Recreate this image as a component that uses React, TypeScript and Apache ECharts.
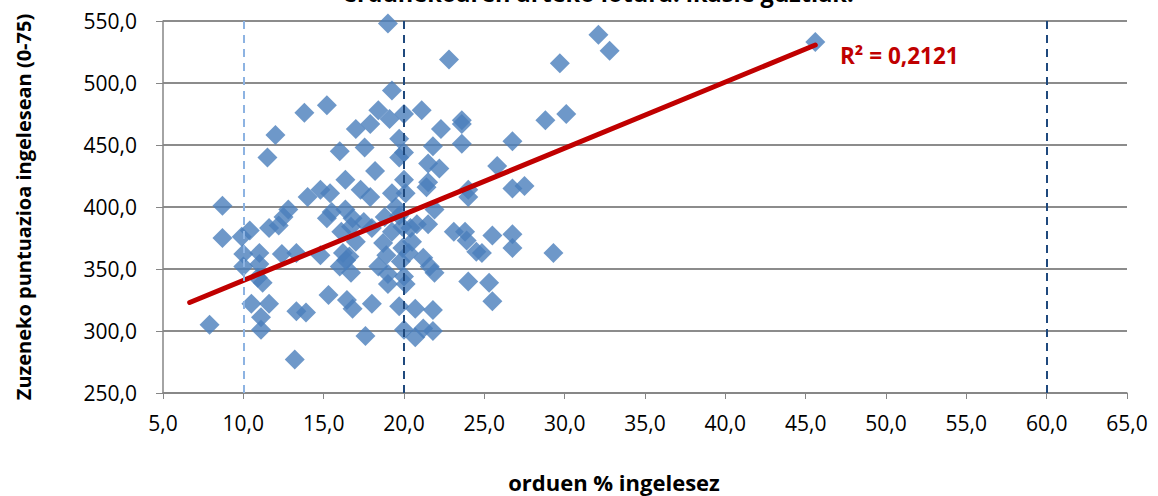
import React, { useEffect, useRef } from "react";
import * as echarts from "echarts";

const titleText = "erdunekoaren arteko lotura: ikasle guztiak.";
const xAxisTitle = "orduen % ingelesez";
const yAxisTitle = "Zuzeneko puntuazioa ingelesean (0-75)";
const r2Label = "R² = 0,2121";

const pointsX = [
  7.9, 8.7, 8.7, 9.9, 10.4, 10.0, 10.0, 11.0, 10.9, 11.2, 10.5, 11.6, 11.1, 11.1, 11.6, 12.2, 12.5, 12.8, 12.4, 13.3,
  13.2, 13.3, 13.9, 11.5, 12.0, 13.8, 11.0, 14.0, 14.8, 14.8, 15.2, 15.4, 15.5, 15.2, 15.3, 16.0, 16.35, 16.35, 16.8, 16.7,
  16.1, 16.2, 16.6, 16.0, 16.7, 16.45, 16.8, 17.0, 17.55, 17.3, 17.9, 17.9, 17.6, 18.2, 18.4, 19.1, 19.0, 19.25, 20.0, 19.7,
  20.0, 19.7, 20.0, 19.25, 20.1, 18.0, 18.8, 19.7, 19.25, 19.9, 20.4, 18.7, 18.9, 19.9, 20.3, 18.4, 19.0, 19.0, 20.0, 20.1,
  18.0, 19.7, 20.0, 20.7, 20.7, 21.2, 21.8, 21.8, 21.1, 22.3, 22.8, 23.6, 23.6, 23.6, 21.8, 21.5, 22.2, 21.5, 21.4, 21.9,
  20.8, 21.5, 21.2, 21.6, 21.9, 23.1, 23.8, 23.9, 24.5, 24.0, 24.0, 24.0, 24.85, 25.3, 25.5, 25.5, 25.8, 26.75, 26.75, 27.5,
  26.75, 26.75, 29.3, 28.8, 30.1, 29.7, 32.1, 32.8, 45.6, 17.0, 17.5, 19.5, 20.5, 16.4, 19.8
];
const pointsY = [
  305, 401, 375, 376, 381, 362, 352, 363, 343, 339, 322, 322, 311, 301, 383, 385, 392, 398, 362, 363,
  277, 316, 315, 440, 458, 476, 354, 408, 414, 361, 482, 411, 396, 391, 329, 445, 422, 398, 391, 384,
  380, 363, 360, 352, 347, 325, 318, 463, 448, 414, 408, 467, 296, 429, 478, 471, 548, 494, 475, 455,
  444, 440, 422, 411, 411, 383, 392, 393, 380, 384, 383, 371, 361, 367, 363, 352, 346, 338, 344, 338,
  322, 320, 301, 318, 295, 302, 300, 317, 478, 463, 519, 470, 467, 451, 449, 435, 431, 420, 416, 398,
  386, 386, 359, 352, 347, 380, 380, 373, 364, 414, 408, 340, 363, 339, 324, 377, 433, 453, 415, 417,
  378, 367, 363, 470, 475, 516, 539, 526, 533, 372, 388, 400, 372, 357, 356
];
const trendX = [6.66, 45.6];
const trendY = [323, 530.6];
const refLinesX = [10, 20, 60];
const refLineColors = ["#8db3e2", "#1f497d", "#1f497d"];

const fmt = (v: number) => v.toFixed(1).replace(".", ",");

export default function App() {
  const ref = useRef<HTMLDivElement>(null);
  useEffect(() => {
    if (!ref.current) return;
    const chart = echarts.init(ref.current, undefined, { renderer: "svg" });
    const font = "'Open Sans', 'Noto Sans', sans-serif";
    chart.setOption({
      animation: false,
      backgroundColor: "#ffffff",
      textStyle: { fontFamily: font },
      grid: { left: 163, right: 31, top: 21, bottom: 103, containLabel: false, outerBoundsMode: "none" },
      xAxis: {
        type: "value",
        min: 5,
        max: 65,
        interval: 5,
        axisLine: { show: true, lineStyle: { color: "#868686", width: 1.5 } },
        axisTick: { show: true, length: 6, lineStyle: { color: "#868686" } },
        axisLabel: { formatter: fmt, fontFamily: font, fontSize: 21, color: "#000", margin: 19 },
        splitLine: { show: false },
      },
      yAxis: {
        type: "value",
        min: 250,
        max: 550,
        interval: 50,
        name: yAxisTitle,
        nameLocation: "middle",
        nameGap: 130,
        nameTextStyle: { fontFamily: font, fontWeight: "bold", fontSize: 20, color: "#000" },
        axisLine: { show: true, lineStyle: { color: "#868686", width: 1.5 } },
        axisTick: { show: true, length: 7, lineStyle: { color: "#868686" } },
        axisLabel: { formatter: fmt, fontFamily: font, fontSize: 21, color: "#000", margin: 26 },
        splitLine: { show: true, lineStyle: { color: "#8c8c8c", width: 2 } },
      },
      graphic: [
        {
          type: "text",
          left: 343,
          top: -19,
          style: { text: titleText, font: `bold 23.5px ${font}`, fill: "#000" },
        },
        {
          type: "text",
          left: 840,
          top: 44,
          style: { text: r2Label, font: `bold 22.5px ${font}`, fill: "#c00000" },
        },
        {
          type: "text",
          x: 614,
          y: 482,
          style: {
            text: xAxisTitle,
            font: `bold 22px ${font}`,
            fill: "#000",
            align: "center",
            verticalAlign: "middle",
          },
        },
      ],
      series: [
        {
          type: "scatter",
          data: [],
          silent: true,
          markLine: {
            silent: true,
            symbol: ["none", "none"],
            label: { show: false },
            data: refLinesX.map((x, i) => ({
              xAxis: x,
              lineStyle: { color: refLineColors[i], width: 2, type: [8, 6] },
            })),
          },
          z: 1,
        },
        {
          type: "scatter",
          symbol: "diamond",
          symbolSize: 20,
          itemStyle: { color: "#4a7ebb" },
          data: pointsX.map((x, i) => [x, pointsY[i]]),
          z: 3,
        },
        {
          type: "line",
          data: trendX.map((x, i) => [x, trendY[i]]),
          symbol: "none",
          lineStyle: { color: "#c00000", width: 5, cap: "round" },
          z: 4,
        },
      ],
    });
    return () => chart.dispose();
  }, []);
  return <div ref={ref} style={{ position: "fixed", left: 0, top: 0, width: 1158, height: 496 }} />;
}
